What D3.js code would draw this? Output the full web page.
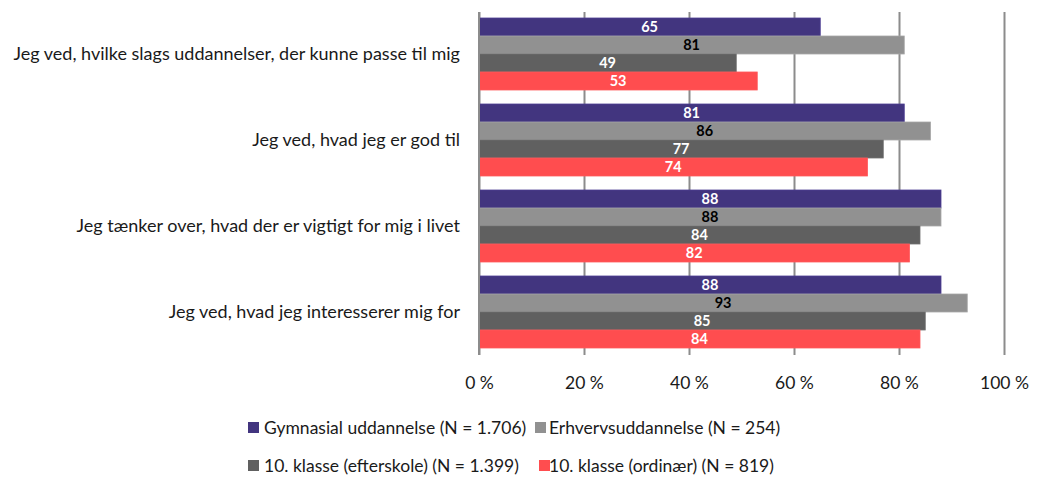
<!DOCTYPE html>
<html>
<head>
<meta charset="utf-8">
<script src="https://cdn.jsdelivr.net/npm/d3@7"></script>
<style>
    body { margin: 0; background: #fff; }
    text { font-family: Lato, "Open Sans", sans-serif; fill: #1a1a1a; }
</style>
</head>
<body>
<div class="chart"></div>
<script>
// data
const categories = [
    "Jeg ved, hvilke slags uddannelser, der kunne passe til mig",
    "Jeg ved, hvad jeg er god til",
    "Jeg tænker over, hvad der er vigtigt for mig i livet",
    "Jeg ved, hvad jeg interesserer mig for"
];
const seriesNames = [
    "Gymnasial uddannelse (N = 1.706)",
    "Erhvervsuddannelse (N = 254)",
    "10. klasse (efterskole) (N = 1.399)",
    "10. klasse (ordinær) (N = 819)"
];
const gymnasial = [65, 81, 88, 88];
const erhverv = [81, 86, 88, 93];
const efterskole = [49, 77, 84, 85];
const ordinaer = [53, 74, 82, 84];
const xTicks = [0, 20, 40, 60, 80, 100];

document.addEventListener("DOMContentLoaded", function () {

    const w = 1037,
        h = 477,
        left = 479,
        right = 1004,
        top = 11,
        bottom = 355;

    const series = [gymnasial, erhverv, efterskole, ordinaer];
    const colors = ["#42357f", "#919191", "#606060", "#ff4d4f"];
    const labelColors = ["#ffffff", "#000000", "#ffffff", "#ffffff"];

    const svg = d3.select(".chart")
        .append("svg")
        .attr("width", w)
        .attr("height", h);

    const xScale = d3.scaleLinear()
        .domain([0, 100])
        .range([left, right]);

    const yScale = d3.scaleBand()
        .domain(categories)
        .range([top, bottom])
        .paddingInner(0.163)
        .paddingOuter(0.0815);

    const inner = d3.scaleBand()
        .domain(d3.range(series.length))
        .range([0, yScale.bandwidth()]);

    // gridlines + ticks
    const xAxis = d3.axisBottom(xScale)
        .tickValues(xTicks)
        .tickSize(bottom - top - 1)
        .tickFormat(d => d + " %");

    const gx = svg.append("g")
        .attr("transform", "translate(0," + (top + 1) + ")")
        .call(xAxis);
    gx.select(".domain").remove();
    gx.selectAll(".tick line")
        .attr("stroke", "#8c8c8c")
        .attr("stroke-width", 2);
    gx.selectAll(".tick text")
        .attr("y", bottom - top + 21)
        .attr("font-size", 17.5)
        .style("font-family", "Lato, sans-serif")
        .attr("fill", "#1a1a1a");

    // bars
    series.forEach(function (vals, s) {
        const g = svg.append("g");
        g.selectAll("rect")
            .data(vals)
            .enter()
            .append("rect")
            .attr("x", xScale(0))
            .attr("y", (d, i) => yScale(categories[i]) + inner(s))
            .attr("width", d => xScale(d) - xScale(0))
            .attr("height", inner.bandwidth())
            .attr("fill", colors[s])
            .attr("stroke", d3.color(colors[s]).brighter(0.4))
            .attr("stroke-width", 0.8);
        g.selectAll("text")
            .data(vals)
            .enter()
            .append("text")
            .attr("x", d => (xScale(0) + xScale(d)) / 2)
            .attr("y", (d, i) => yScale(categories[i]) + inner(s) + inner.bandwidth() / 2)
            .attr("dy", "0.36em")
            .attr("text-anchor", "middle")
            .attr("font-size", 14.5)
            .attr("font-weight", "bold")
            .style("fill", labelColors[s])
            .text(d => d);
    });

    // axis line at 0
    svg.append("line")
        .attr("x1", xScale(0))
        .attr("x2", xScale(0))
        .attr("y1", top + 1)
        .attr("y2", bottom)
        .attr("stroke", "#8c8c8c")
        .attr("stroke-width", 2);

    // category labels
    svg.selectAll(".cat")
        .data(categories)
        .enter()
        .append("text")
        .attr("class", "cat")
        .attr("x", 460)
        .attr("y", d => yScale(d) + yScale.bandwidth() / 2)
        .attr("dy", "0.36em")
        .attr("text-anchor", "end")
        .attr("font-size", 18)
        .text(d => d);

    // legend
    const legendPos = [[248, 428, 264], [535, 428, 549], [248, 466, 264], [539, 466, 549]];
    const legend = svg.selectAll(".legend")
        .data(seriesNames)
        .enter()
        .append("g")
        .attr("class", "legend");
    legend.append("rect")
        .attr("x", (d, i) => legendPos[i][0])
        .attr("y", (d, i) => legendPos[i][1] - 6)
        .attr("width", 11)
        .attr("height", 11)
        .attr("fill", (d, i) => colors[i]);
    legend.append("text")
        .attr("x", (d, i) => legendPos[i][2])
        .attr("y", (d, i) => legendPos[i][1])
        .attr("dy", "0.36em")
        .attr("font-size", 17.5)
        .text(d => d);
});
</script>
</body>
</html>
